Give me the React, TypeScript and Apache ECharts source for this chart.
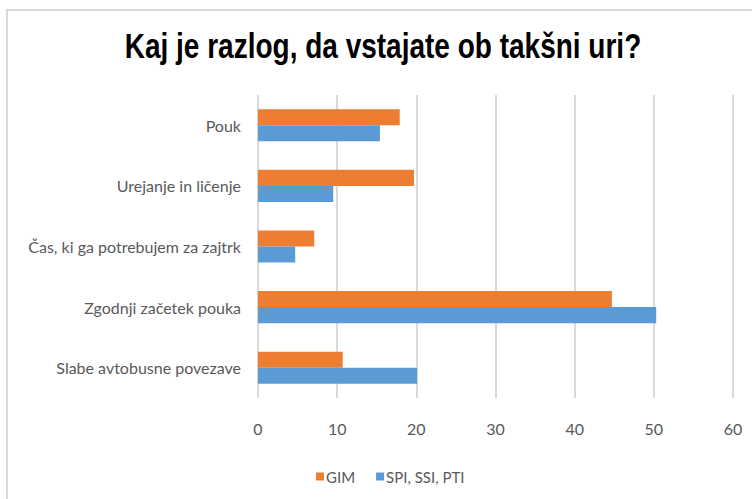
import React, { useEffect, useRef } from "react";
import * as echarts from "echarts";

const categories = [
  "Pouk",
  "Urejanje in ličenje",
  "Čas, ki ga potrebujem za zajtrk",
  "Zgodnji začetek pouka",
  "Slabe avtobusne povezave",
];
const gimValues = [17.9, 19.7, 7.1, 44.7, 10.7];
const spiValues = [15.4, 9.5, 4.7, 50.3, 20.1];
const seriesNames = ["GIM", "SPI, SSI, PTI"];
const titleText = "Kaj je razlog, da vstajate ob takšni uri?";

export default function App() {
  const ref = useRef<HTMLDivElement>(null);
  useEffect(() => {
    if (!ref.current) return;
    const chart = echarts.init(ref.current, null, { renderer: "svg" });
    const labelColor = "#595959";
    const font = "Lato, 'Open Sans', sans-serif";
    chart.setOption({
      animation: false,
      backgroundColor: "#ffffff",
      graphic: [
        {
          type: "rect",
          shape: { x: 7, y: 10, width: 800, height: 520 },
          style: { fill: "none", stroke: "#d9d9d9", lineWidth: 2 },
          silent: true,
        },
        {
          type: "text",
          x: 383,
          y: 46,
          scaleX: 0.8,
          silent: true,
          style: {
            text: titleText,
            fontFamily: "'Liberation Sans', Arial, sans-serif",
            fontWeight: "bold",
            fontSize: 35,
            fill: "#000000",
            textAlign: "center",
            textVerticalAlign: "middle",
          },
        },
      ],
      legend: {
        data: seriesNames,
        left: 311,
        top: 464,
        itemWidth: 8,
        itemHeight: 8,
        itemGap: 21,
        icon: "rect",
        textStyle: { color: labelColor, fontSize: 15, fontFamily: font, padding: [0, 0, 0, -3] },
      },
      grid: {
        left: 258,
        top: 95,
        width: 475,
        height: 303,
        containLabel: false,
      },
      xAxis: {
        type: "value",
        min: 0,
        max: 60,
        interval: 10,
        axisLine: { show: false },
        axisTick: { show: false },
        splitLine: { show: true, lineStyle: { color: "#d9d9d9", width: 2 } },
        axisLabel: {
          color: labelColor,
          fontSize: 16,
          fontFamily: font,
          margin: 22,
        },
      },
      yAxis: {
        type: "category",
        data: categories,
        inverse: true,
        axisLine: { show: false },
        axisTick: { show: false },
        axisLabel: {
          color: labelColor,
          fontSize: 16,
          fontFamily: font,
          margin: 17,
        },
      },
      series: [
        {
          name: seriesNames[0],
          type: "bar",
          data: gimValues,
          itemStyle: { color: "#ed7d31" },
          barGap: "0%",
          barCategoryGap: "47%",
        },
        {
          name: seriesNames[1],
          type: "bar",
          data: spiValues,
          itemStyle: { color: "#5b9bd5" },
          barGap: "0%",
          barCategoryGap: "47%",
        },
      ],
    });
    return () => chart.dispose();
  }, []);
  return <div ref={ref} style={{ width: 752, height: 499, position: "absolute", left: 0, top: 0 }} />;
}
